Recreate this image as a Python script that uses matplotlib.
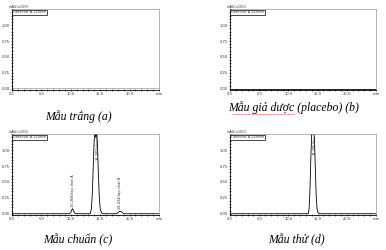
import matplotlib
matplotlib.use("Agg")
from matplotlib import pyplot as plt

# -- data --

# trace points (time in min, signal in mAU x100)
blank_t = [0.0, 25.0]
blank_y = [0.01, 0.01]

placebo_t = [0.0, 25.0]
placebo_y = [0.0, 0.0]

std_t = [0.0, 9.8, 10.0, 10.15, 10.3, 10.45, 10.6, 10.8, 13.3, 13.5, 13.65, 13.8,
         13.95, 14.1, 14.25, 14.4, 14.55, 14.7, 14.85, 15.0, 15.2, 15.4, 17.8,
         18.1, 18.4, 18.7, 19.0, 25.0]
std_y = [0.0, 0.0, 0.02, 0.06, 0.08, 0.05, 0.02, 0.0, 0.0, 0.08, 0.3, 0.7,
         1.1, 1.3, 1.2, 1.3, 1.05, 0.6, 0.25, 0.08, 0.02, 0.0, 0.0,
         0.025, 0.04, 0.025, 0.0, 0.0]
# (time, height, label) -- tall peaks get their label hung from the top
std_labels = [(10.3, 0.08, "10.268/tap chat A"),
              (14.5, 1.3, "14.289/chuan"),
              (18.4, 0.04, "18.434/tap chat B")]

test_t = [0.0, 13.4, 13.55, 13.7, 13.85, 14.0, 14.15, 14.3, 14.45, 14.6, 14.75,
          14.9, 15.05, 15.3, 25.0]
test_y = [0.0, 0.0, 0.08, 0.4, 0.9, 1.3, 1.25, 1.3, 1.2, 0.75, 0.3, 0.08, 0.02,
          0.0, 0.0]
test_labels = [(14.55, 1.3, "14.295/thu")]

x_ticks = [0, 5, 10, 15, 20, 25]
x_tick_labels = ["0.0", "5.0", "10.0", "15.0", "20.0", "min"]
y_ticks = [0.0, 0.25, 0.5, 0.75, 1.0]
y_tick_labels = ["0.00", "0.25", "0.50", "0.75", "1.00"]

captions = ["Mẫu trắng (a)", "Mẫu giả dược (placebo) (b)", "Mẫu chuẩn (c)", "Mẫu thử (d)"]


# -- drawing --

W, H = 386, 250


def add_panel(fig, left, top, right, bottom):
    # pixel box -> figure fraction
    return fig.add_axes([left / W, 1 - bottom / H, (right - left) / W, (bottom - top) / H])


def draw_chrom(ax, t, y, labels=(), base_color="black"):
    ax.plot(t, y, color=base_color, lw=0.6, clip_on=True)
    for xp, yp, txt in labels:
        if yp > 1.0:
            ax.text(xp, 1.24, txt, rotation=90, fontsize=2.6,
                    ha="center", va="top", color="#333333")
        else:
            ax.text(xp, yp + 0.03, txt, rotation=90, fontsize=2.6,
                    ha="center", va="bottom", color="#333333")

    ax.set_xlim(0, 25)
    ax.set_ylim(-0.02, 1.255)
    ax.set_xticks(x_ticks)
    ax.set_xticklabels(x_tick_labels)
    ax.set_yticks(y_ticks)
    ax.set_yticklabels(y_tick_labels)
    ax.minorticks_on()
    ax.tick_params(which="major", labelsize=2.6, length=2, width=0.5, pad=0.6,
                   direction="inout", colors="#333333")
    ax.tick_params(which="minor", length=1.2, width=0.4, direction="inout")
    ax.tick_params(axis="both", which="both", top=False, right=False)
    for side in ["top", "right"]:
        ax.spines[side].set_color("#999999")
        ax.spines[side].set_linewidth(0.5)
    for side in ["left", "bottom"]:
        ax.spines[side].set_color("black")
        ax.spines[side].set_linewidth(0.6)

    ax.text(-0.02, 1.005, "mAU(x100)", transform=ax.transAxes, fontsize=2.5,
            ha="left", va="bottom", color="#333333")
    ax.text(0.008, 0.985, "Detector A 220nm", transform=ax.transAxes, fontsize=2.5,
            ha="left", va="top", color="#333333",
            bbox=dict(boxstyle="square,pad=0.2", fc="white", ec="black", lw=0.5))


fig = plt.figure(figsize=(W / 100, H / 100), dpi=100)

ax_a = add_panel(fig, 12, 9, 159, 90)
draw_chrom(ax_a, blank_t, blank_y, base_color="#aaaaaa")

ax_b = add_panel(fig, 230, 9, 376, 90)
draw_chrom(ax_b, placebo_t, placebo_y)

ax_c = add_panel(fig, 12, 134, 159, 215)
draw_chrom(ax_c, std_t, std_y, std_labels)

ax_d = add_panel(fig, 230, 134, 376, 215)
draw_chrom(ax_d, test_t, test_y, test_labels)

cap_pos = [(78, 117), (294, 108), (78, 240), (296, 240)]
for (cx, cy), cap in zip(cap_pos, captions):
    fig.text(cx / W, 1 - cy / H, cap, fontsize=8.5, style="italic",
             family="Liberation Serif", ha="center", va="center")

# red spell-check underline under the placebo caption
fig.add_artist(plt.Line2D([232 / W, 294 / W], [1 - 114 / H, 1 - 114 / H],
                          color="red", lw=0.5, ls=(0, (1, 1))))

fig.savefig("out.png", dpi=100)
